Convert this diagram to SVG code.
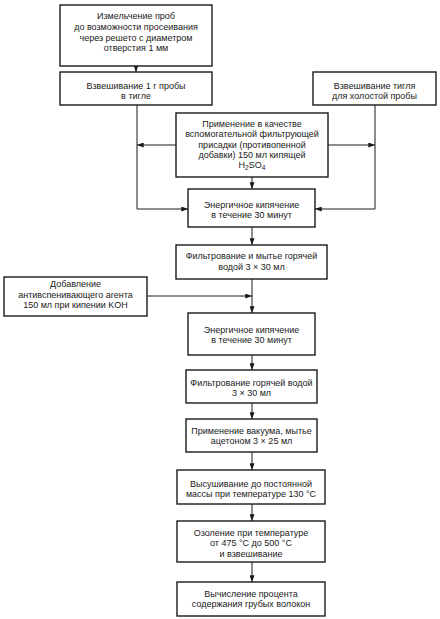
<svg xmlns="http://www.w3.org/2000/svg" width="440" height="619" viewBox="0 0 440 619">
<defs>
<marker id="ah" viewBox="0 0 8 6" refX="8" refY="3" markerWidth="7" markerHeight="5" orient="auto" markerUnits="userSpaceOnUse">
<path d="M0,0 L8,3 L0,6 z" fill="#1a1a1a"/>
</marker>
<style>
.box{fill:#fff;stroke:#1a1a1a;stroke-width:1.4}
.t{font-family:"Liberation Sans",Arial,sans-serif;font-size:9px;fill:#1a1a1a;text-anchor:middle}
.c{fill:none;stroke:#1a1a1a;stroke-width:1}
</style>
</defs>
<rect width="440" height="619" fill="#fff"/>
<g id="connectors">
<path class="c" d="M136,66 V72" marker-end="url(#ah)"/>
<path class="c" d="M137,105 V209 H188" marker-end="url(#ah)"/>
<path class="c" d="M176,145 H137" marker-end="url(#ah)"/>
<path class="c" d="M328,145 H375" marker-end="url(#ah)"/>
<path class="c" d="M375,105 V209 H315" marker-end="url(#ah)"/>
<path class="c" d="M252,177 V189" marker-end="url(#ah)"/>
<path class="c" d="M252,227 V245" marker-end="url(#ah)"/>
<path class="c" d="M252,279 V313" marker-end="url(#ah)"/>
<path class="c" d="M147,296 H252" marker-end="url(#ah)"/>
<path class="c" d="M252,355 V370" marker-end="url(#ah)"/>
<path class="c" d="M252,403 V419" marker-end="url(#ah)"/>
<path class="c" d="M252,452 V470" marker-end="url(#ah)"/>
<path class="c" d="M252,504 V521" marker-end="url(#ah)"/>
<path class="c" d="M252,562 V582" marker-end="url(#ah)"/>
</g>
<g id="n1">
<rect class="box" x="60" y="5" width="152" height="61"/>
<text class="t" x="136" y="19">Измельчение проб</text>
<text class="t" x="136" y="30">до возможности просеивания</text>
<text class="t" x="136" y="40.6">через решето с диаметром</text>
<text class="t" x="136" y="51">отверстия 1 мм</text>
</g>
<g id="n2">
<rect class="box" x="60" y="72" width="152" height="33"/>
<text class="t" x="136" y="88.5">Взвешивание 1 г пробы</text>
<text class="t" x="136" y="98.5">в тигле</text>
</g>
<g id="n3">
<rect class="box" x="313" y="72" width="123" height="33"/>
<text class="t" x="374.5" y="88.5">Взвешивание тигля</text>
<text class="t" x="374.5" y="98.5">для холостой пробы</text>
</g>
<g id="n4">
<rect class="box" x="176" y="113" width="152" height="64"/>
<text class="t" x="252" y="126.5">Применение в качестве</text>
<text class="t" x="252" y="137">вспомогательной фильтрующей</text>
<text class="t" x="252" y="147.5">присадки (противопенной</text>
<text class="t" x="252" y="158">добавки) 150 мл кипящей</text>
<text class="t" x="252" y="168">H<tspan font-size="6.5" dy="2">2</tspan><tspan dy="-2">SO</tspan><tspan font-size="6.5" dy="2">4</tspan></text>
</g>
<g id="n5">
<rect class="box" x="188" y="189" width="127" height="38"/>
<text class="t" x="251.5" y="207.5">Энергичное кипячение</text>
<text class="t" x="251.5" y="217.5">в течение 30 минут</text>
</g>
<g id="n6">
<rect class="box" x="176" y="245" width="151" height="34"/>
<text class="t" x="251.5" y="259">Фильтрование и мытье горячей</text>
<text class="t" x="251.5" y="269.5">водой 3 × 30 мл</text>
</g>
<g id="n7">
<rect class="box" x="4" y="277" width="143" height="39"/>
<text class="t" x="75.5" y="287">Добавление</text>
<text class="t" x="75.5" y="297.5">антивспенивающего агента</text>
<text class="t" x="75.5" y="308">150 мл при кипении KOH</text>
</g>
<g id="n8">
<rect class="box" x="188" y="313" width="127" height="42"/>
<text class="t" x="251.5" y="332.5">Энергичное кипячение</text>
<text class="t" x="251.5" y="342.5">в течение 30 минут</text>
</g>
<g id="n9">
<rect class="box" x="186" y="370" width="131" height="33"/>
<text class="t" x="251.5" y="385.5">Фильтрование горячей водой</text>
<text class="t" x="251.5" y="395.5">3 × 30 мл</text>
</g>
<g id="n10">
<rect class="box" x="186" y="419" width="131" height="33"/>
<text class="t" x="251.5" y="434">Применение вакуума, мытье</text>
<text class="t" x="251.5" y="444">ацетоном 3 × 25 мл</text>
</g>
<g id="n11">
<rect class="box" x="177" y="470" width="148" height="34"/>
<text class="t" x="251" y="486.5">Высушивание до постоянной</text>
<text class="t" x="251" y="496.5">массы при температуре 130 °С</text>
</g>
<g id="n12">
<rect class="box" x="177" y="521" width="148" height="41"/>
<text class="t" x="251" y="536">Озоление при температуре</text>
<text class="t" x="251" y="546">от 475 °С до 500 °С</text>
<text class="t" x="251" y="556.5">и взвешивание</text>
</g>
<g id="n13">
<rect class="box" x="177" y="582" width="148" height="34"/>
<text class="t" x="251" y="596.5">Вычисление процента</text>
<text class="t" x="251" y="606.5">содержания грубых волокон</text>
</g>
</svg>
